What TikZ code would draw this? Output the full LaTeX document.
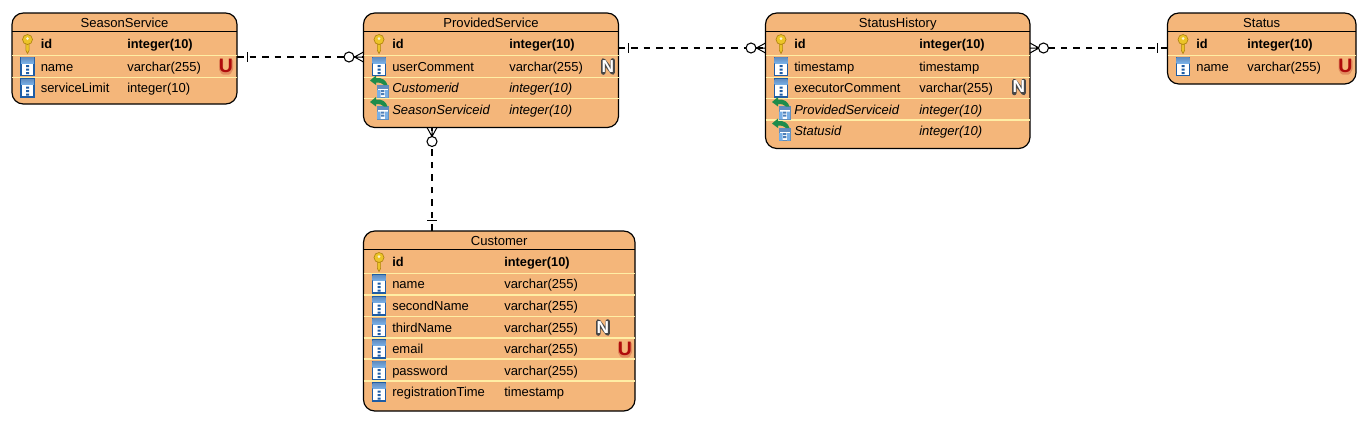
\documentclass[tikz,border=0pt]{standalone}
\usepackage{fontspec}
\setmainfont{Liberation Sans}
\definecolor{tblfill}{RGB}{244,182,122}
\definecolor{tblsep}{RGB}{255,238,165}
\definecolor{keygold}{RGB}{236,196,40}
\definecolor{keyedge}{RGB}{176,132,16}
\definecolor{iconblue}{RGB}{30,92,165}
\definecolor{iconsky}{RGB}{120,175,230}
\definecolor{fkgreen}{RGB}{30,140,75}
\definecolor{ured}{RGB}{175,12,12}
\newcounter{cellno}
\tikzset{
  tbl/.style={draw=black,line width=0.9pt,fill=tblfill,rounded corners=8.5pt,anchor=north west,inner sep=0pt,outer sep=0pt},
  titletext/.style={font=\fontsize{9.8pt}{11pt}\selectfont,inner sep=0pt,anchor=base},
  celltext/.style={font=\fontsize{9.75pt}{11pt}\selectfont,inner sep=0pt,anchor=base west},
  pktext/.style={celltext,font=\fontsize{9.6pt}{11pt}\selectfont\bfseries},
  fktext/.style={celltext,font=\fontsize{9.75pt}{11pt}\selectfont\itshape},
  sepline/.style={draw=tblsep,line width=0.8pt},
  headline/.style={draw=black,line width=0.75pt},
  conn/.style={draw=black,line width=0.8pt,dash pattern=on 5pt off 4.4pt},
  solidpart/.style={draw=black,line width=0.75pt},
  ringend/.style={draw=black,fill=white,line width=0.8pt},
  ubadge/.style={font=\fontsize{14.6pt}{15pt}\selectfont\bfseries,text=ured,inner sep=0pt},
  nbadge/.style={font=\fontsize{13pt}{15pt}\selectfont\bfseries,text=white,inner sep=0pt},
}
\newcommand{\keyicon}[2]{\begin{scope}[shift={(#1,#2)}]
  \fill[keygold,draw=keyedge,line width=0.5pt] (-1.6,-1) -- (-1.6,6.5) -- (0,9.5) -- (1.6,6.5) -- (1.6,-1) -- cycle;
  \fill[keygold,draw=keyedge,line width=0.5pt] (0,-4.5) circle[radius=5];
  \fill[white!80!keygold] (0,-5.5) circle[radius=1.5];
\end{scope}}
\newcommand{\colicon}[2]{\begin{scope}[shift={(#1,#2)}]
  \fill[white,draw=iconblue,line width=0.8pt] (-6.5,-9) rectangle (6.5,9);
  \shade[top color=iconblue!70,bottom color=iconsky,draw=none] (-6.5,-9) rectangle (6.5,-3.5);
  \fill[iconblue] (-1.5,-1.5) rectangle (1.5,0.5) (-1.5,2) rectangle (1.5,4) (-1.5,5.5) rectangle (1.5,7.5);
\end{scope}}
\newcommand{\fkicon}[2]{\begin{scope}[shift={(#1,#2)}]
  \fill[white,draw=iconsky!80!black,line width=0.5pt] (-2,-3) rectangle (9,9.5);
  \fill[iconblue!70] (-2,-3) rectangle (9,0.5);
  \fill[iconsky] (-2,2) rectangle (1.5,9.5) (6,2) rectangle (9,9.5);
  \fill[iconblue!80] (2.2,2) rectangle (5.3,4) (2.2,5) rectangle (5.3,7);
  \fill[fkgreen] (-9,-7.5) -- (-3,-12.5) -- (-3,-10) .. controls (3,-10.5) and (7,-8) .. (8.5,-3) -- (5,-3) .. controls (3,-5.5) and (0,-5.5) .. (-3,-5.5) -- (-3,-3) -- cycle;
\end{scope}}
\newcommand{\pkrow}[5]{\keyicon{#1+15.5}{#3}%
  \stepcounter{cellno}\node[pktext] (cell\arabic{cellno}a) at (#1+28.5,#3+4.8) {#4};%
  \node[pktext] (cell\arabic{cellno}b) at (#2,#3+4.8) {#5};}
\newcommand{\colrow}[5]{\colicon{#1+15.5}{#3}%
  \stepcounter{cellno}\node[celltext] (cell\arabic{cellno}a) at (#1+28.5,#3+4.8) {#4};%
  \node[celltext] (cell\arabic{cellno}b) at (#2,#3+4.8) {#5};}
\newcommand{\fkrow}[5]{\fkicon{#1+15.5}{#3}%
  \stepcounter{cellno}\node[fktext] (cell\arabic{cellno}a) at (#1+28.5,#3+4.8) {#4};%
  \node[fktext] (cell\arabic{cellno}b) at (#2,#3+4.8) {#5};}
\newcommand{\tablebox}[7]{%
  \node[tbl,minimum width={(#4-#2)*0.75pt},minimum height={(#5-#3)*0.75pt}] (#1) at (#2,#3) {};
  \draw[headline] (#1.west |- 0,#6) -- (#1.east |- 0,#6);
  \node[titletext] (#1title) at ({(#2+#4)/2},#3+14.5) {#7};}
\newcommand{\seps}[2]{\foreach \sy in {#2} {\draw[sepline] (#1.west |- 0,\sy) -- (#1.east |- 0,\sy);}}
\newcommand{\ubadgeat}[3]{\begin{scope}[shift={(#2,#3)}]
  \draw[ured,opacity=0.25,line width=3pt,line join=round,line cap=round] (-5,-5) -- (-5,3) -- (-3,6.5) -- (3,6.5) -- (5,3) -- (5,-5);
  \end{scope}\node[ubadge] (#1) at (#2,#3) {U};}
\newcommand{\nbadgeat}[3]{\begin{scope}[shift={(#2,#3)}]
  \draw[black!72,line width=3.4pt,line join=round,line cap=round] (-4.7,6) -- (-4.7,-6) -- (4.7,6) -- (4.7,-6);
  \end{scope}\node[nbadge] (#1) at (#2,#3) {N};}
\begin{document}
\begin{tikzpicture}[x=0.75pt,y=-0.75pt]
\useasboundingbox (0,0) rectangle (1365,430);
\fill[white] (0,0) rectangle (1365,430);

\tablebox{season}{12}{13}{237}{104}{31}{SeasonService}
\seps{season}{55.5,77.5}
\pkrow{12}{127}{44}{id}{integer(10)}
\colrow{12}{127}{66.5}{name}{varchar(255)}
\colrow{12}{127}{88}{serviceLimit}{integer(10)}
\ubadgeat{seasonu}{226}{66}

\tablebox{provided}{363.5}{13}{618.5}{127.5}{31.5}{ProvidedService}
\seps{provided}{55.5,77.5,98.5}
\pkrow{363.5}{509}{44}{id}{integer(10)}
\colrow{363.5}{509}{66.5}{userComment}{varchar(255)}
\fkrow{363.5}{509}{88}{Customerid}{integer(10)}
\fkrow{363.5}{509}{109.5}{SeasonServiceid}{integer(10)}
\nbadgeat{providedn}{608}{66.5}

\tablebox{history}{765.5}{13}{1030}{148.5}{31.5}{StatusHistory}
\seps{history}{55.5,77.5,98.5,120}
\pkrow{765.5}{919}{44}{id}{integer(10)}
\colrow{765.5}{919}{66.5}{timestamp}{timestamp}
\colrow{765.5}{919}{88}{executorComment}{varchar(255)}
\fkrow{765.5}{919}{109.5}{ProvidedServiceid}{integer(10)}
\fkrow{765.5}{919}{131}{Statusid}{integer(10)}
\nbadgeat{historyn}{1019}{87}

\tablebox{status}{1167.5}{13}{1356}{84}{31.5}{Status}
\seps{status}{55.5}
\pkrow{1167.5}{1247}{44}{id}{integer(10)}
\colrow{1167.5}{1247}{66.5}{name}{varchar(255)}
\ubadgeat{statusu}{1345.5}{66}

\tablebox{customer}{363.5}{231}{635}{411}{249.5}{Customer}
\seps{customer}{273.5,295,316.5,338,359,381}
\pkrow{363.5}{504}{262}{id}{integer(10)}
\colrow{363.5}{504}{284}{name}{varchar(255)}
\colrow{363.5}{504}{306}{secondName}{varchar(255)}
\colrow{363.5}{504}{327.5}{thirdName}{varchar(255)}
\colrow{363.5}{504}{349}{email}{varchar(255)}
\colrow{363.5}{504}{370.5}{password}{varchar(255)}
\colrow{363.5}{504}{392}{registrationTime}{timestamp}
\nbadgeat{customern}{603}{327.5}
\ubadgeat{customeru}{625}{349}

% connectors
\draw[conn] (season.east |- 0,57) -- (provided.west |- 0,57);
\draw[solidpart] (247,52) -- (247,62);
\draw[solidpart] (provided.west |- 0,57) -- ++(-9,0) (provided.west |- 0,52) -- ++(-9,5) -- ++(9,5);
\draw[ringend] (349,57) circle[radius=5];

\draw[conn] (provided.east |- 0,48) -- (history.west |- 0,48);
\draw[solidpart] (628,43) -- (628,53);
\draw[solidpart] (history.west |- 0,48) -- ++(-9,0) (history.west |- 0,43) -- ++(-9,5) -- ++(9,5);
\draw[ringend] (751,48) circle[radius=5];

\draw[conn] (status.west |- 0,48) -- (history.east |- 0,48);
\draw[solidpart] (1157,43) -- (1157,53);
\draw[solidpart] (history.east |- 0,48) -- ++(9,0) (history.east |- 0,43) -- ++(9,5) -- ++(-9,5);
\draw[ringend] (1043.5,48) circle[radius=5];

\draw[conn] (customer.north -| 432,0) -- (provided.south -| 432,0);
\draw[solidpart] (427,220) -- (437,220);
\draw[solidpart] (provided.south -| 432,0) -- ++(0,9) (provided.south -| 427,0) -- ++(5,9) -- ++(5,-9);
\draw[ringend] (432,141.5) circle[radius=5];
\end{tikzpicture}
\end{document}
